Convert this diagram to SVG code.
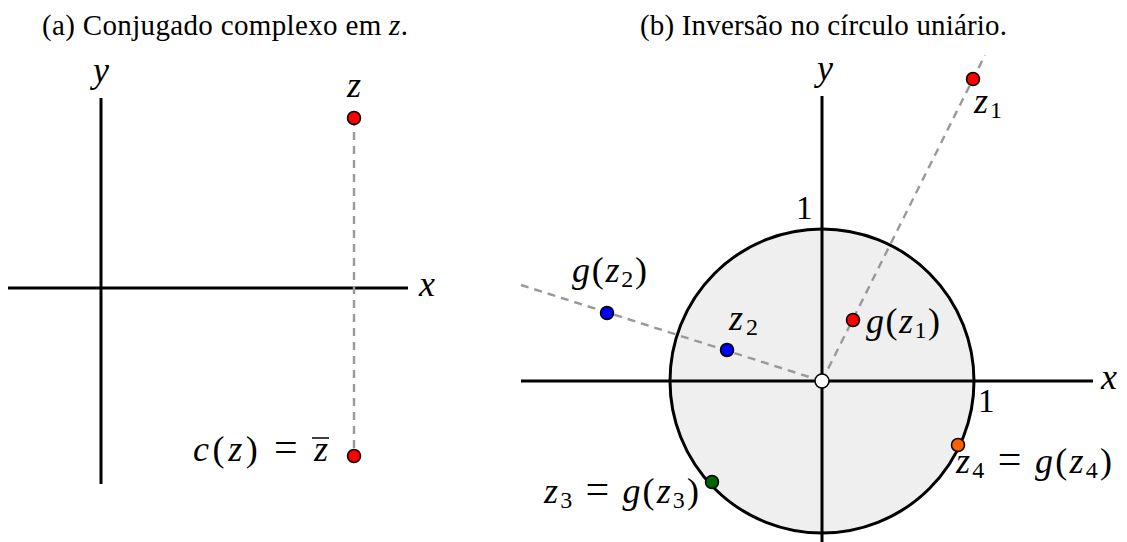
<svg xmlns="http://www.w3.org/2000/svg" width="1127" height="542" viewBox="0 0 1127 542">
<style>
.title{font-family:"Liberation Serif",serif;font-size:29px;fill:#000}
.m{font-family:"Liberation Serif",serif;font-style:italic;font-size:36px;fill:#000}
.r{font-family:"Liberation Serif",serif;font-style:normal;font-size:33px;fill:#000}
.u{font-style:normal}
.eq{font-style:normal;font-size:42px}
.sub{font-style:normal;font-size:24px}
.axis{stroke:#000;stroke-width:3;fill:none}
.dash{stroke:#999;stroke-width:2.4;stroke-dasharray:8 6;fill:none}
.pt{stroke:#000;stroke-width:1.5}
</style>
<rect width="1127" height="542" fill="#fff"/>
<text class="title" x="42" y="35" textLength="366" lengthAdjust="spacing">(a)  Conjugado complexo em <tspan font-style="italic">z</tspan>.</text>
<text class="title" x="640" y="35" textLength="367" lengthAdjust="spacing">(b)  Inversão no círculo uniário.</text>

<g id="panel-a">
<g id="axes-a">
<line class="axis" x1="101" y1="98" x2="101" y2="484"/>
<line class="axis" x1="8" y1="288" x2="408" y2="288"/>
<text class="m" x="101" y="82" text-anchor="middle">y</text>
<text class="m" x="419" y="296">x</text>
</g>
<g id="connectors-a">
<line class="dash" x1="354" y1="118" x2="354" y2="456"/>
</g>
<g id="node-z">
<circle class="pt" cx="354" cy="118" r="6.5" fill="#f00"/>
<text class="m" x="354" y="97" text-anchor="middle">z</text>
</g>
<g id="node-cz">
<circle class="pt" cx="354" cy="456" r="6.5" fill="#f00"/>
<text class="m" x="193" y="461" textLength="135" lengthAdjust="spacing">c<tspan class="u">(</tspan>z<tspan class="u">) </tspan><tspan class="eq">=</tspan><tspan class="u"> </tspan>z</text>
<line x1="312" y1="438" x2="329" y2="438" stroke="#000" stroke-width="1.5"/>
</g>
</g>

<g id="panel-b">
<g id="disk">
<circle cx="822" cy="381" r="152" fill="#efefef" stroke="#000" stroke-width="3"/>
</g>
<g id="axes-b">
<line class="axis" x1="822" y1="96" x2="822" y2="542"/>
<line class="axis" x1="521" y1="381" x2="1093" y2="381"/>
<text class="m" x="825" y="80" text-anchor="middle">y</text>
<text class="m" x="1101" y="389">x</text>
<text class="r" x="796" y="219">1</text>
<text class="r" x="978" y="412">1</text>
</g>
<g id="connectors-b">
<line class="dash" x1="822" y1="381" x2="985" y2="55"/>
<line class="dash" x1="822" y1="381" x2="521" y2="285"/>
</g>
<g id="node-z1">
<circle class="pt" cx="973" cy="79" r="6.5" fill="#f00"/>
<text class="m" x="974" y="113" textLength="28" lengthAdjust="spacing">z<tspan class="sub" dy="5">1</tspan></text>
</g>
<g id="node-gz1">
<circle class="pt" cx="853" cy="320" r="6.5" fill="#f00"/>
<text class="m" x="866" y="333" textLength="74" lengthAdjust="spacing">g<tspan class="u">(</tspan>z<tspan class="sub" dy="5">1</tspan><tspan class="u" dy="-5">)</tspan></text>
</g>
<g id="node-z2">
<circle class="pt" cx="727" cy="350" r="6.5" fill="#00f"/>
<text class="m" x="729" y="330" textLength="29" lengthAdjust="spacing">z<tspan class="sub" dy="5">2</tspan></text>
</g>
<g id="node-gz2">
<circle class="pt" cx="607" cy="313" r="6.5" fill="#00f"/>
<text class="m" x="572" y="282" textLength="75" lengthAdjust="spacing">g<tspan class="u">(</tspan>z<tspan class="sub" dy="5">2</tspan><tspan class="u" dy="-5">)</tspan></text>
</g>
<g id="node-z3">
<circle class="pt" cx="712" cy="482" r="6.5" fill="#006400"/>
<text class="m" x="544" y="503" textLength="155" lengthAdjust="spacing">z<tspan class="sub" dy="5">3</tspan><tspan class="u" dy="-5"> </tspan><tspan class="eq">=</tspan><tspan class="u"> </tspan>g<tspan class="u">(</tspan>z<tspan class="sub" dy="5">3</tspan><tspan class="u" dy="-5">)</tspan></text>
</g>
<g id="node-z4">
<circle class="pt" cx="958" cy="445" r="6.5" fill="#ff6000"/>
<text class="m" x="956" y="473" textLength="156" lengthAdjust="spacing">z<tspan class="sub" dy="5">4</tspan><tspan class="u" dy="-5"> </tspan><tspan class="eq">=</tspan><tspan class="u"> </tspan>g<tspan class="u">(</tspan>z<tspan class="sub" dy="5">4</tspan><tspan class="u" dy="-5">)</tspan></text>
</g>
<g id="node-origin">
<circle class="pt" cx="822" cy="381" r="7" fill="#fff"/>
</g>
</g>
</svg>
